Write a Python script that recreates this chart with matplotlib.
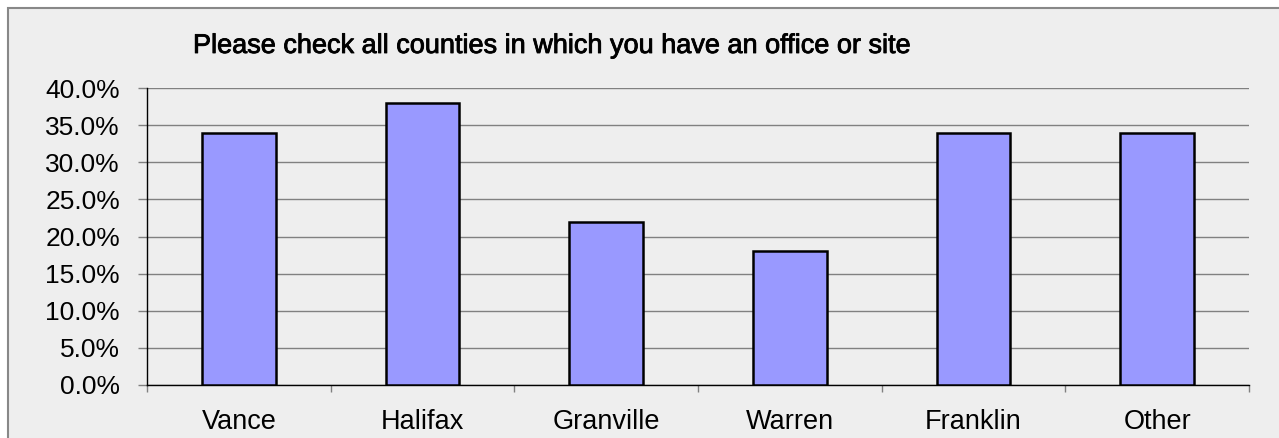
import matplotlib
matplotlib.use("Agg")
import matplotlib.pyplot as plt
import matplotlib.patheffects as pe
from matplotlib.patches import Rectangle
from matplotlib.ticker import FuncFormatter, MultipleLocator

categories = ["Vance", "Halifax", "Granville", "Warren", "Franklin", "Other"]
values = [34.0, 38.0, 22.0, 18.0, 34.0, 34.0]
title = "Please check all counties in which you have an office or site"

plt.rcParams['font.family'] = ['Liberation Sans', 'DejaVu Sans']

W, H = 1279, 438
fig = plt.figure(figsize=(W / 100, H / 100), dpi=100)
fig.patch.set_facecolor("white")

# outer chart frame
frame = Rectangle((8 / W, -0.1), 1.2, 1 - 8 / H + 0.1, transform=fig.transFigure,
                  facecolor="#EEEEEE", edgecolor="#888888", linewidth=1.5, zorder=-10)
fig.patches.append(frame)

ax = fig.add_axes([147 / W, 1 - 385 / H, (1249 - 147) / W, (385 - 88) / H])
ax.set_facecolor("#EEEEEE")
ax.patch.set_alpha(0)

x = range(len(categories))
ax.bar(x, values, width=0.4, color="#9999FF", edgecolor="black", linewidth=1.8, zorder=3)

ax.set_xlim(-0.5, len(categories) - 0.5)
ax.set_ylim(0, 40)
ax.yaxis.set_major_locator(MultipleLocator(5))
ax.yaxis.set_major_formatter(FuncFormatter(lambda v, p: f"{v:.1f}%"))
ax.grid(axis="y", color="#808080", linewidth=1.0, zorder=0)

ax.set_xticks([i + 0.5 for i in range(-1, len(categories))], minor=False)
ax.set_xticklabels([])
ax.set_xticks(list(x), minor=True)
ax.set_xticklabels(categories, minor=True)
ax.tick_params(axis="x", which="major", length=5, width=1, color="#808080", direction="out")
ax.tick_params(axis="x", which="minor", length=0, pad=17, labelsize=19.5)
ax.tick_params(axis="y", length=6.5, width=1, color="#808080", direction="out", pad=13, labelsize=19)

for s in ["top", "right"]:
    ax.spines[s].set_visible(False)
ax.spines["left"].set_color("black")
ax.spines["bottom"].set_color("black")
ax.spines["left"].set_linewidth(1.0)
ax.spines["bottom"].set_linewidth(1.0)

fig.text(193 / W, 1 - 46 / H, title, fontsize=19.5, va="center", ha="left",
         path_effects=[pe.withStroke(linewidth=0.6, foreground="black")])

fig.savefig("out.png", dpi=100, facecolor=fig.get_facecolor())
